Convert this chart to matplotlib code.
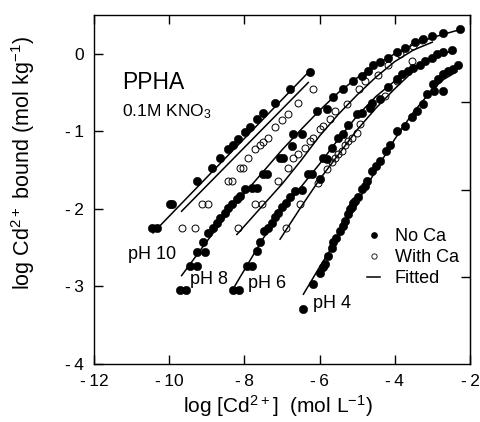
"""Cd binding to PPHA at four pH values, with and without Ca."""

import matplotlib

matplotlib.use("Agg")
import matplotlib.pyplot as plt
from matplotlib.lines import Line2D
from matplotlib.ticker import FuncFormatter

plt.rcParams["font.family"] = ["Liberation Sans", "DejaVu Sans"]
plt.rcParams["mathtext.default"] = "regular"

# ---- values: x = log[Cd2+], y = log Cd bound ----
ph10_noca_x = [-10.46, -10.32, -9.99, -9.92, -9.27, -8.87, -8.65, -8.43, -8.30, -8.16,
               -7.98, -7.85, -7.67, -7.50, -7.19, -6.79, -6.26]
ph10_noca_y = [-2.25, -2.25, -1.94, -1.94, -1.64, -1.47, -1.34, -1.23, -1.17, -1.10,
               -1.01, -0.95, -0.84, -0.76, -0.63, -0.46, -0.24]
ph10_ca_x = [-9.67, -9.31, -9.14, -8.96, -8.43, -8.34, -8.12, -8.04, -7.90, -7.72,
             -7.59, -7.50, -7.36, -7.19, -7.01, -6.83, -6.57, -6.17]
ph10_ca_y = [-2.24, -2.24, -1.94, -1.94, -1.64, -1.64, -1.47, -1.47, -1.34, -1.23,
             -1.17, -1.14, -1.08, -0.95, -0.86, -0.78, -0.63, -0.46]
ph10_fit_noca_x = [-10.43, -6.26]
ph10_fit_noca_y = [-2.31, -0.22]
ph10_fit_ca_x = [-9.67, -6.30]
ph10_fit_ca_y = [-2.03, -0.37]

ph8_noca_x = [-9.71, -9.55, -9.45, -9.27, -9.25, -9.05, -9.09, -8.97, -8.84, -8.73,
              -8.65, -8.52, -8.44, -8.33, -8.20, -8.12, -7.98, -7.80, -7.66, -7.51,
              -7.40, -7.05, -6.97, -6.74, -6.70, -6.48, -6.08, -5.81, -5.64, -5.37,
              -5.10, -4.88, -4.71, -4.57, -4.39, -4.18, -3.95, -3.73, -3.46, -3.25,
              -3.02, -2.71, -2.27]
ph8_noca_y = [-3.04, -3.04, -2.74, -2.74, -2.56, -2.56, -2.43, -2.31, -2.25, -2.18,
              -2.12, -2.05, -1.99, -1.94, -1.87, -1.83, -1.74, -1.73, -1.73, -1.55,
              -1.55, -1.34, -1.34, -1.19, -1.03, -1.03, -0.74, -0.71, -0.56, -0.46,
              -0.35, -0.28, -0.22, -0.15, -0.11, -0.05, 0.02, 0.08, 0.15, 0.19,
              0.23, 0.27, 0.32]
ph8_ca_x = [-8.16, -7.72, -7.54, -7.11, -6.84, -6.71, -6.57, -6.39, -6.26, -6.18,
            -5.99, -5.91, -5.72, -5.59, -5.28, -4.95, -4.79, -4.45, -4.18, -3.86,
            -3.51, -3.28]
ph8_ca_y = [-2.24, -1.94, -1.94, -1.64, -1.47, -1.35, -1.29, -1.21, -1.12, -1.08,
            -0.97, -0.93, -0.84, -0.74, -0.65, -0.46, -0.35, -0.27, -0.15, 0.00,
            0.10, 0.18]
ph8_fit_noca_x = [-9.67, -9.0, -8.5, -8.0, -7.5, -7.0, -6.5, -6.0, -5.5, -5.0,
                  -4.5, -4.0, -3.5, -3.0, -2.5, -2.2]
ph8_fit_noca_y = [-2.86, -2.42, -2.10, -1.80, -1.52, -1.24, -0.98, -0.73, -0.50, -0.31,
                  -0.14, 0.00, 0.12, 0.21, 0.28, 0.32]
ph8_fit_ca_x = [-8.2, -7.5, -7.0, -6.5, -6.0, -5.5, -5.0, -4.5, -4.0, -3.5, -3.0]
ph8_fit_ca_y = [-2.33, -1.95, -1.68, -1.38, -1.06, -0.78, -0.53, -0.30, -0.10, 0.05, 0.15]

ph6_noca_x = [-8.29, -8.13, -7.94, -7.81, -7.67, -7.59, -7.49, -7.36, -7.27, -7.19,
              -7.10, -7.01, -6.88, -6.79, -6.65, -6.48, -6.30, -6.21, -5.99, -5.90,
              -5.80, -5.68, -5.50, -5.37, -5.25, -5.00, -4.87, -4.66, -4.60, -4.39,
              -4.18, -3.95, -3.82, -3.65, -3.52, -3.33, -3.20, -3.02, -2.89, -2.72,
              -2.49]
ph6_noca_y = [-3.04, -3.04, -2.74, -2.74, -2.54, -2.43, -2.28, -2.24, -2.18, -2.11,
              -2.05, -1.98, -1.92, -1.85, -1.77, -1.75, -1.55, -1.55, -1.62, -1.35,
              -1.36, -1.21, -1.08, -1.03, -0.92, -0.77, -0.76, -0.70, -0.63, -0.58,
              -0.43, -0.33, -0.26, -0.22, -0.18, -0.15, -0.09, -0.05, 0.00, 0.02,
              0.05]
ph6_ca_x = [-6.88, -6.52, -6.03, -5.81, -5.68, -5.59, -5.51, -5.41, -5.32, -5.24,
            -5.15, -5.01, -4.93, -4.66, -4.26, -3.95, -3.55]
ph6_ca_y = [-2.24, -1.94, -1.66, -1.49, -1.40, -1.34, -1.29, -1.25, -1.17, -1.12,
            -1.08, -1.02, -0.90, -0.69, -0.54, -0.35, -0.09]
ph6_fit_noca_x = [-8.25, -7.5, -7.0, -6.5, -6.0, -5.5, -5.0, -4.5, -4.0, -3.5, -3.0, -2.4]
ph6_fit_noca_y = [-2.99, -2.38, -2.02, -1.72, -1.42, -1.10, -0.80, -0.55, -0.35, -0.18,
                  -0.05, 0.05]
ph6_fit_ca_x = [-7.05, -6.5, -6.0, -5.5, -5.0, -4.5, -4.0, -3.5, -3.3]
ph6_fit_ca_y = [-2.39, -1.98, -1.62, -1.30, -0.98, -0.70, -0.45, -0.22, -0.14]

ph4_noca_x = [-6.43, -6.17, -5.99, -5.90, -5.86, -5.77, -5.68, -5.64, -5.55, -5.46,
              -5.37, -5.32, -5.24, -5.20, -5.14, -5.10, -5.06, -4.98, -4.87, -4.80,
              -4.75, -4.61, -4.50, -4.39, -4.22, -4.13, -3.95, -3.73, -3.55, -3.42,
              -3.25, -3.15, -2.98, -2.95, -2.85, -2.72, -2.72, -2.58, -2.45, -2.32]
ph4_noca_y = [-3.29, -2.97, -2.82, -2.75, -2.71, -2.61, -2.50, -2.43, -2.37, -2.28,
              -2.22, -2.15, -2.06, -2.00, -1.97, -1.93, -1.90, -1.85, -1.74, -1.70,
              -1.64, -1.51, -1.45, -1.38, -1.25, -1.17, -0.99, -0.93, -0.82, -0.74,
              -0.65, -0.52, -0.39, -0.48, -0.32, -0.26, -0.48, -0.22, -0.19, -0.15]
ph4_fit_x = [-6.43, -6.0, -5.5, -5.0, -4.5, -4.0, -3.5, -3.0, -2.7, -2.35]
ph4_fit_y = [-3.10, -2.75, -2.36, -1.92, -1.50, -1.10, -0.75, -0.46, -0.33, -0.23]

XLIM = (-12, -2)
YLIM = (-4, 0.5)

fig = plt.figure(figsize=(4.8, 4.22), dpi=100)
ax = fig.add_axes([0.1958, 0.1374, 0.7833, 0.827])

fits = [
    (ph10_fit_noca_x, ph10_fit_noca_y), (ph10_fit_ca_x, ph10_fit_ca_y),
    (ph8_fit_noca_x, ph8_fit_noca_y), (ph8_fit_ca_x, ph8_fit_ca_y),
    (ph6_fit_noca_x, ph6_fit_noca_y), (ph6_fit_ca_x, ph6_fit_ca_y),
    (ph4_fit_x, ph4_fit_y),
]
for fx, fy in fits:
    ax.plot(fx, fy, color="black", lw=1.1, zorder=2)

for sx, sy in [(ph10_noca_x, ph10_noca_y), (ph8_noca_x, ph8_noca_y),
               (ph6_noca_x, ph6_noca_y), (ph4_noca_x, ph4_noca_y)]:
    ax.plot(sx, sy, "o", ls="none", ms=6.0, mfc="black", mec="black", mew=0.4, zorder=3)

for sx, sy in [(ph10_ca_x, ph10_ca_y), (ph8_ca_x, ph8_ca_y), (ph6_ca_x, ph6_ca_y)]:
    ax.plot(sx, sy, "o", ls="none", ms=5.0, mfc="none", mec="black", mew=0.7, zorder=3)

ax.set_xlim(*XLIM)
ax.set_ylim(*YLIM)
ax.set_xticks(range(-12, -1, 2))
ax.set_yticks([-4, -3, -2, -1, 0])
fmt = FuncFormatter(lambda v, _: f"-\u2009{abs(int(v))}" if v < 0 else f"{int(v)}")
ax.xaxis.set_major_formatter(fmt)
ax.yaxis.set_major_formatter(fmt)
ax.tick_params(direction="in", length=6.5, width=1.0, top=True, right=False,
               labelsize=12.5, pad=7)
for sp in ax.spines.values():
    sp.set_linewidth(1.0)

# the right-hand axis of the original carries unlabelled ticks at quarter heights
span = YLIM[1] - YLIM[0]
secax = ax.secondary_yaxis("right", functions=(lambda y: (y - YLIM[0]) / span,
                                                lambda f: f * span + YLIM[0]))
secax.set_yticks([0.25, 0.5, 0.75])
secax.tick_params(direction="in", length=6.5, width=1.0, labelright=False)

ax.set_xlabel("log [Cd$^{2+}$]  (mol L$^{-1}$)", fontsize=15)
ax.xaxis.set_label_coords(0.49, -0.083)
ax.set_ylabel("log Cd$^{2+}$ bound (mol kg$^{-1}$)", fontsize=15.5)
ax.yaxis.set_label_coords(-0.152, 0.575)

ax.text(-11.26, -0.45, "PPHA", fontsize=16.5)
ax.text(-11.26, -0.80, "0.1M KNO$_3$", fontsize=12.5)
ax.text(-11.10, -2.645, "pH 10", fontsize=13)
ax.text(-9.45, -2.97, "pH 8", fontsize=13)
ax.text(-7.90, -3.02, "pH 6", fontsize=13)
ax.text(-6.18, -3.28, "pH 4", fontsize=13)

handles = [
    Line2D([], [], ls="none", marker="o", ms=3.8, mfc="black", mec="black"),
    Line2D([], [], ls="none", marker="o", ms=3.8, mfc="none", mec="black", mew=0.6),
    Line2D([], [], color="black", lw=1.1),
]
ax.legend(handles, ["No Ca", "With Ca", "Fitted"], loc="upper left",
          bbox_to_anchor=(0.726, 0.39), frameon=False, fontsize=13,
          handlelength=0.75, handletextpad=0.8, labelspacing=0.23,
          borderpad=0, borderaxespad=0)

fig.savefig("out.png", dpi=100)
